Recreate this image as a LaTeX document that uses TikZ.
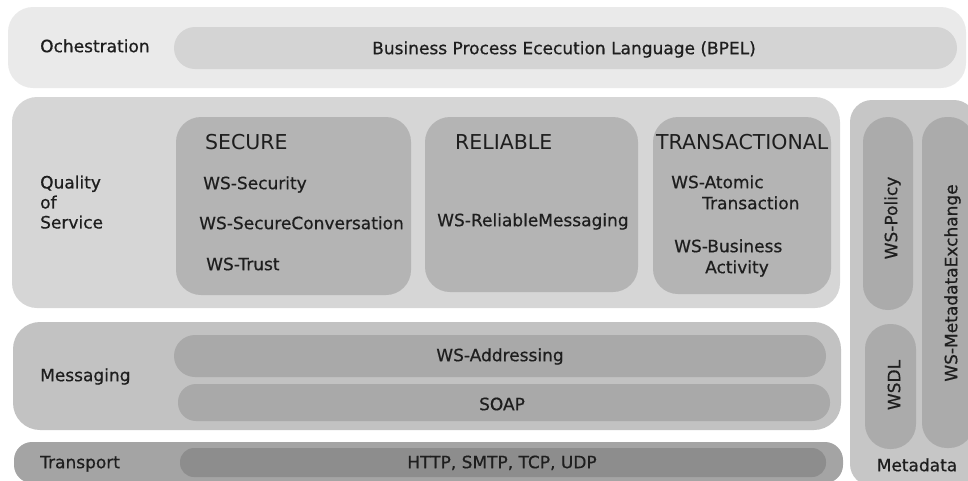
\documentclass[tikz,border=0pt]{standalone}
\usepackage{fontspec}
\setmainfont{DejaVu Sans}
\newfontfamily\bodyfont{DejaVu Sans}[FakeBold=0.6]
\definecolor{orchOuter}{HTML}{EAEAEA}
\definecolor{orchInner}{HTML}{D4D4D4}
\definecolor{qosOuter}{HTML}{D6D6D6}
\definecolor{qosInner}{HTML}{B4B4B4}
\definecolor{metaOuter}{HTML}{C6C6C6}
\definecolor{metaInner}{HTML}{ABABAB}
\definecolor{msgOuter}{HTML}{C2C2C2}
\definecolor{msgInner}{HTML}{A9A9A9}
\definecolor{trOuter}{HTML}{A4A4A4}
\definecolor{trInner}{HTML}{8D8D8D}
\definecolor{ink}{HTML}{1E1E1E}
\begin{document}
\begin{tikzpicture}[x=1pt,y=-1pt,
  txt/.style={inner sep=0pt,font=\bodyfont\fontsize{17}{20}\selectfont,text=ink,
              text height=12.4pt,text depth=0pt},
  lbl/.style={txt,anchor=west},
  head/.style={inner sep=0pt,anchor=west,font=\fontsize{20.5}{24}\selectfont,
               text=ink,text height=15pt,text depth=0pt},
  vert/.style={txt,rotate=90,anchor=center}]
\useasboundingbox (0,0) rectangle (968,480);

% ---- Orchestration layer
\fill[orchOuter,rounded corners=25pt] (8,7) rectangle (966,88);
\fill[orchInner,rounded corners=21pt] (174,27) rectangle (957,69);
\node[lbl] (orch) at (40,46) {Ochestration};
\node[txt] (bpel) at (564,48) {Business Process Ececution Language (BPEL)};

% ---- Quality of service layer
\fill[qosOuter,rounded corners=25pt] (12,97) rectangle (840,308);
\fill[qosInner,rounded corners=25pt] (176,117) rectangle (411,295);
\fill[qosInner,rounded corners=25pt] (425,117) rectangle (638,292);
\fill[qosInner,rounded corners=25pt] (653,117) rectangle (831,294);
\node[lbl,align=left,text height=] (qos) at (40,202) {Quality\\of\\Service};
\node[head] (secure) at (205,142) {SECURE};
\node[lbl] (wssec) at (203,183) {WS-Security};
\node[lbl] (wsconv) at (199,223) {WS-SecureConversation};
\node[lbl] (wstrust) at (206,264) {WS-Trust};
\node[head] (reliable) at (455,142) {RELIABLE};
\node[lbl] (wsrm) at (437,220) {WS-ReliableMessaging};
\node[head] (trans) at (656,142) {TRANSACTIONAL};
\node[lbl] (wsat1) at (671,182) {WS-Atomic};
\node[lbl] (wsat2) at (702,203) {Transaction};
\node[lbl] (wsba1) at (674,246) {WS-Business};
\node[lbl] (wsba2) at (705,267) {Activity};

% ---- Metadata column
\fill[metaOuter,rounded corners=22pt] (850,100) rectangle (976,486);
\fill[metaInner,rounded corners=25pt] (863,117) rectangle (913,310);
\fill[metaInner,rounded corners=25pt] (865,324) rectangle (916,449);
\fill[metaInner,rounded corners=25pt] (922,117) rectangle (974,448);
\node[vert] (policy) at (891,218) {WS-Policy};
\node[vert] (wsdl) at (894,385) {WSDL};
\node[vert] (mex) at (951,283) {WS-MetadataExchange};
\node[txt] (meta) at (917,465) {Metadata};

% ---- Messaging layer
\fill[msgOuter,rounded corners=27pt] (13,322) rectangle (841,430);
\fill[msgInner,rounded corners=21pt] (174,335) rectangle (826,377);
\fill[msgInner,rounded corners=18pt] (178,384) rectangle (830,421);
\node[lbl] (msg) at (40,375) {Messaging};
\node[txt] (wsaddr) at (500,355) {WS-Addressing};
\node[txt] (soap) at (502,404) {SOAP};

% ---- Transport layer
\fill[trOuter,rounded corners=18pt] (14,442) rectangle (843,483);
\fill[trInner,rounded corners=14pt] (180,448) rectangle (826,477);
\node[lbl] (transport) at (40,462) {Transport};
\node[txt] (http) at (502,462) {HTTP, SMTP, TCP, UDP};
\end{tikzpicture}
\end{document}
